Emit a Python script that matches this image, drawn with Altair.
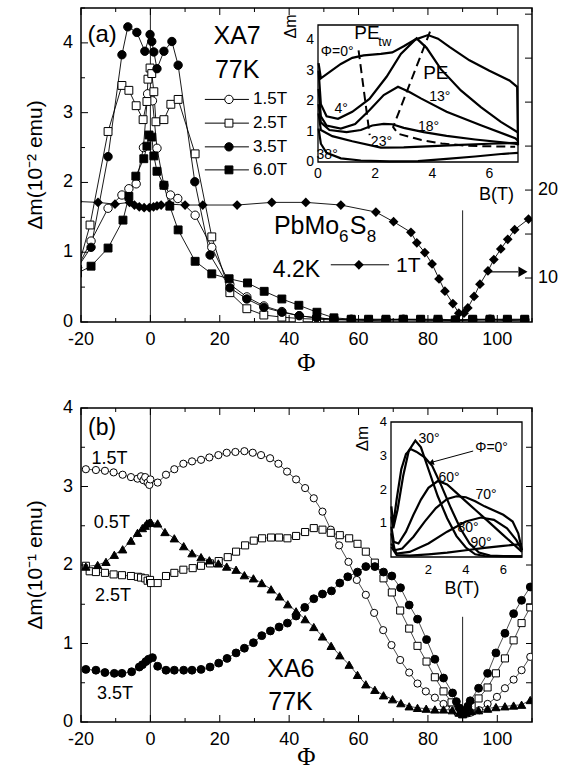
import altair as alt
import pandas as pd

SANS = "Liberation Sans"
SERIF = "Liberation Serif"
W, H = 451, 314

# ================= panel (a): XA7, 77 K =================
A_PHI_15 = [-21, -17.1, -12.2, -8.2, -6.2, -4.1, -2.0, -0.8, 0.6, 1.9, 3.9, 5.8, 7.9, 12.9, 17.7, 22.9, 27.8, 32.7, 37.9, 42.9, 47.9, 52.9, 57.9, 62.9, 67.9, 72.9, 77.9, 82.9, 87.9, 92.9, 97.9, 102.9, 107.9]
A_VAL_15 = [0.78, 1.16, 1.63, 1.82, 1.91, 1.98, 2.5, 3.27, 3.17, 2.49, 1.96, 1.82, 1.77, 1.53, 1.07, 0.54, 0.36, 0.23, 0.15, 0.09, 0.06, 0.04, 0.03, 0.03, 0.03, 0.03, 0.03, 0.03, 0.02, 0.03, 0.03, 0.03, 0.03]

A_PHI_25 = [-21, -17.4, -12.2, -8.2, -6.2, -4.1, -2.1, -1.0, -0.7, -0.1, 0.4, 1.0, 1.6, 3.9, 5.9, 8.0, 12.9, 17.7, 22.9, 27.8, 32.7, 37.9, 42.9, 47.9, 52.9, 57.9, 62.9, 67.9, 72.9, 77.9, 82.9, 87.9, 92.9, 97.9, 102.9, 107.9]
A_VAL_25 = [0.75, 1.39, 2.73, 3.39, 3.32, 3.1, 2.9, 3.16, 3.48, 3.64, 3.56, 3.3, 2.87, 2.9, 3.12, 3.19, 2.41, 1.22, 0.42, 0.19, 0.1, 0.07, 0.05, 0.04, 0.03, 0.03, 0.02, 0.03, 0.03, 0.03, 0.02, 0.02, 0.03, 0.03, 0.02, 0.03]

A_PHI_35 = [-21, -17.1, -12.2, -8.2, -6.5, -3.9, -1.6, -0.1, 0.4, 1.0, 1.9, 3.9, 6.2, 8.0, 12.8, 17.2, 22.9, 27.8, 32.7, 37.9, 42.9, 47.9, 52.9, 57.9, 62.9, 67.9, 72.9, 77.9, 82.9, 87.9, 92.9, 97.9, 102.9, 107.9]
A_VAL_35 = [0.78, 1.07, 2.37, 3.83, 4.23, 4.15, 3.88, 4.12, 4.02, 3.87, 3.63, 3.88, 4.02, 3.68, 2.01, 0.96, 0.49, 0.33, 0.21, 0.14, 0.09, 0.06, 0.04, 0.04, 0.03, 0.03, 0.04, 0.03, 0.03, 0.03, 0.03, 0.04, 0.03, 0.03]

A_PHI_60 = [-21, -17.1, -12.2, -7.9, -6.2, -4.2, -1.9, -1.0, -0.4, 0.4, 1.0, 1.9, 3.9, 5.6, 8.0, 12.9, 17.7, 22.7, 28.0, 32.8, 37.9, 42.8, 48.0, 52.9, 57.9, 62.9, 67.9, 72.9, 77.9, 82.9, 87.9, 92.9, 97.9, 102.9, 107.9]
A_VAL_60 = [0.7, 0.8, 1.06, 1.46, 1.8, 2.09, 2.34, 2.52, 2.68, 2.65, 2.38, 2.16, 1.96, 1.66, 1.32, 0.87, 0.69, 0.62, 0.56, 0.44, 0.33, 0.24, 0.14, 0.06, 0.04, 0.04, 0.04, 0.04, 0.04, 0.04, 0.03, 0.04, 0.04, 0.04, 0.04]

# PbMo6S8, 4.2 K, 1 T  (right axis)
D_PHI = [-21, -15.1, -10.2, -6.0, -4.6, -3.2, -1.8, -0.3, 0.9, 1.9, 3.1, 5.5, 10.0, 15.1, 25.0, 35.0, 44.8, 54.9, 65.0, 70.1, 75.1, 76.8, 79.1, 81.2, 83.2, 84.9, 87.2, 88.9, 90.4, 91.5, 93.3, 95.0, 97.3, 99.0, 101.0, 103.0, 105.0, 109.0]
D_VAL = [18.7, 18.6, 18.4, 18.6, 18.3, 18.1, 18.0, 18.0, 18.1, 18.2, 18.3, 18.4, 18.3, 18.3, 18.3, 18.6, 18.6, 18.3, 17.5, 16.4, 15.2, 14.0, 12.9, 11.6, 9.9, 8.5, 7.1, 6.0, 6.0, 6.6, 7.9, 9.3, 10.8, 12.1, 13.3, 14.4, 15.5, 16.7]

# inset (a): dm vs B(T)
IA_B_0 = [0.02, 0.1, 0.4, 0.8, 1.2, 1.6, 2.2, 2.6, 3.0, 3.4, 3.85, 4.2, 4.6, 5.3, 6.0, 6.7, 6.97, 7.0]
IA_M_0 = [3.25, 2.75, 2.95, 3.22, 3.42, 3.5, 3.55, 3.6, 3.8, 4.02, 4.17, 4.05, 3.78, 3.34, 3.0, 2.68, 2.47, 0.55]
IA_B_4 = [0.02, 0.1, 0.3, 0.7, 1.2, 1.8, 2.4, 2.9, 3.45, 3.8, 4.3, 5.0, 5.7, 6.4, 7.0]
IA_M_4 = [3.0, 1.9, 1.5, 1.42, 1.65, 2.07, 2.8, 3.55, 4.06, 3.75, 3.05, 2.35, 1.8, 1.32, 0.97]
IA_B_13 = [0.02, 0.1, 0.3, 0.8, 1.3, 1.8, 2.3, 2.8, 3.2, 3.6, 4.5, 5.7, 6.9, 7.0]
IA_M_13 = [2.4, 1.5, 1.2, 1.1, 1.25, 1.7, 2.2, 2.47, 2.3, 2.09, 1.65, 1.21, 0.78, 0.7]
IA_B_18 = [0.02, 0.1, 0.4, 1.0, 1.5, 1.9, 2.3, 2.6, 3.0, 3.7, 4.5, 5.5, 6.9, 7.0]
IA_M_18 = [1.9, 1.3, 1.05, 0.98, 1.05, 1.2, 1.25, 1.24, 1.12, 0.98, 0.86, 0.74, 0.6, 0.58]
IA_B_23 = [0.02, 0.1, 0.5, 1.2, 2.2, 3.0, 4.0, 5.0, 6.0, 7.0]
IA_M_23 = [1.6, 1.05, 0.85, 0.68, 0.47, 0.48, 0.52, 0.56, 0.6, 0.63]
IA_B_38 = [0.02, 0.1, 0.3, 0.8, 1.5, 2.5, 3.5, 4.5, 5.5, 6.5, 7.0]
IA_M_38 = [1.1, 0.6, 0.3, 0.12, 0.05, 0.02, 0.03, 0.1, 0.18, 0.27, 0.3]
IA_B_PETW = [1.42, 1.81]
IA_M_PETW = [3.67, 0.88]
IA_B_PE = [3.92, 2.63, 2.8, 3.62, 4.33, 5.27, 6.9]
IA_M_PE = [4.28, 1.15, 0.93, 0.72, 0.61, 0.53, 0.5]

# ================= panel (b): XA6, 77 K =================
B_PHI_15 = [-18.6, -15.7, -13.1, -10.6, -8.0, -5.6, -3.7, -2.7, -2.0, -1.5, -0.8, -0.3, 0.0, 2.1, 4.5, 6.9, 9.5, 12.0, 14.6, 17.0, 19.6, 22.0, 24.5, 27.1, 29.5, 31.9, 34.5, 36.9, 39.4, 42.0, 44.6, 47.1, 49.6, 52.0, 54.4, 57.1, 59.5, 62.1, 64.5, 67.1, 69.5, 72.0, 74.6, 77.0, 79.4, 82.0, 84.5, 87.1, 88.5, 90.0, 91.5, 92.4, 94.8, 97.2, 99.9, 102.2, 104.7, 107.0, 109.5]
B_VAL_15 = [3.22, 3.21, 3.2, 3.18, 3.15, 3.12, 3.10, 3.13, 3.08, 3.12, 3.05, 3.02, 3.09, 3.05, 3.15, 3.22, 3.29, 3.32, 3.34, 3.37, 3.4, 3.43, 3.44, 3.45, 3.43, 3.4, 3.36, 3.29, 3.19, 3.09, 2.98, 2.85, 2.68, 2.45, 2.25, 2.04, 1.81, 1.62, 1.39, 1.17, 0.98, 0.79, 0.63, 0.49, 0.39, 0.31, 0.23, 0.17, 0.12, 0.10, 0.11, 0.12, 0.15, 0.23, 0.32, 0.43, 0.54, 0.66, 0.83]

B_PHI_05 = [-18.6, -15.2, -12.8, -10.4, -8.0, -5.6, -3.7, -2.3, -1.5, -1.0, -0.3, 0.2, 2.1, 4.2, 6.9, 9.6, 12.0, 14.6, 17.0, 19.6, 22.0, 24.7, 27.1, 29.7, 32.1, 34.8, 37.2, 39.6, 42.0, 44.6, 47.1, 49.6, 52.1, 54.6, 57.3, 59.7, 62.1, 64.7, 67.2, 69.8, 72.2, 74.6, 77.0, 79.5, 82.0, 84.5, 87.0, 89.0, 90.0, 91.0, 92.5, 94.6, 97.2, 99.6, 102.2, 104.7, 107.0, 109.5]
B_VAL_05 = [1.98, 2.0, 2.04, 2.13, 2.2, 2.31, 2.41, 2.47, 2.5, 2.53, 2.54, 2.54, 2.53, 2.42, 2.34, 2.24, 2.15, 2.1, 2.06, 2.02, 1.98, 1.94, 1.87, 1.83, 1.77, 1.69, 1.6, 1.5, 1.41, 1.31, 1.21, 1.09, 0.97, 0.85, 0.73, 0.6, 0.48, 0.41, 0.34, 0.29, 0.24, 0.2, 0.18, 0.17, 0.16, 0.16, 0.15, 0.12, 0.10, 0.12, 0.14, 0.15, 0.17, 0.19, 0.2, 0.21, 0.22, 0.28]

B_PHI_25 = [-18.6, -17.5, -15.7, -13.1, -10.6, -8.2, -5.6, -3.6, -2.7, -1.5, -0.8, -0.1, 0.2, 2.1, 4.5, 6.9, 9.5, 12.2, 14.6, 17.2, 19.7, 22.3, 24.7, 27.3, 29.8, 32.2, 34.8, 37.1, 39.5, 42.0, 44.6, 47.1, 49.6, 52.0, 54.6, 57.3, 59.7, 62.1, 64.7, 67.2, 69.6, 72.0, 74.6, 77.0, 79.6, 82.0, 84.5, 86.8, 88.5, 90.0, 91.5, 92.6, 94.6, 97.2, 99.6, 102.2, 104.7, 107.0, 109.5]
B_VAL_25 = [1.99, 1.92, 1.91, 1.9, 1.88, 1.87, 1.86, 1.85, 1.84, 1.83, 1.8, 1.81, 1.77, 1.77, 1.86, 1.9, 1.94, 1.96, 1.99, 2.02, 2.05, 2.1, 2.17, 2.25, 2.31, 2.34, 2.35, 2.35, 2.34, 2.37, 2.42, 2.47, 2.45, 2.41, 2.38, 2.34, 2.27, 2.17, 2.03, 1.83, 1.65, 1.42, 1.19, 0.97, 0.77, 0.57, 0.39, 0.25, 0.15, 0.1, 0.14, 0.2, 0.3, 0.44, 0.62, 0.81, 1.04, 1.26, 1.46]

B_PHI_35 = [-18.6, -15.7, -13.1, -10.4, -8.2, -5.4, -3.2, -2.3, -1.3, -0.5, 0.6, 2.1, 4.5, 6.9, 9.6, 12.0, 14.6, 17.2, 19.7, 22.1, 24.7, 27.1, 29.7, 32.1, 34.6, 37.1, 39.5, 42.0, 44.5, 47.1, 49.6, 52.2, 54.6, 56.9, 59.7, 62.1, 64.7, 67.2, 69.6, 72.1, 74.6, 77.0, 79.6, 82.0, 84.5, 87.1, 88.2, 89.0, 89.6, 90.2, 90.8, 91.5, 92.2, 94.6, 97.2, 99.6, 102.2, 104.7, 107.0, 109.5]
B_VAL_35 = [0.67, 0.66, 0.63, 0.62, 0.62, 0.64, 0.7, 0.73, 0.77, 0.8, 0.82, 0.71, 0.66, 0.66, 0.66, 0.66, 0.67, 0.7, 0.75, 0.81, 0.88, 0.94, 1.01, 1.1, 1.16, 1.21, 1.26, 1.35, 1.46, 1.57, 1.63, 1.67, 1.77, 1.85, 1.91, 1.98, 1.98, 1.91, 1.86, 1.71, 1.49, 1.31, 1.05, 0.8, 0.56, 0.37, 0.26, 0.18, 0.13, 0.12, 0.15, 0.2, 0.27, 0.43, 0.62, 0.88, 1.13, 1.38, 1.55, 1.72]

# inset (b)
IB_B_0 = [0.02, 0.12, 0.3, 0.55, 0.8, 1.05, 1.35, 1.8, 2.2, 2.7, 3.2, 3.7, 4.2, 4.7, 5.3, 6.0, 7.0]
IB_M_0 = [1.5, 0.95, 1.7, 2.6, 3.05, 3.2, 3.12, 2.95, 2.7, 2.1, 1.45, 0.85, 0.4, 0.13, 0.04, 0.03, 0.02]
IB_B_30 = [0.02, 0.12, 0.35, 0.65, 0.95, 1.3, 1.6, 2.0, 2.5, 3.0, 3.5, 4.0, 4.5, 5.0, 6.0, 7.0]
IB_M_30 = [1.2, 0.85, 1.4, 2.4, 3.15, 3.45, 3.25, 2.6, 1.8, 1.15, 0.62, 0.28, 0.08, 0.03, 0.02, 0.02]
IB_B_60 = [0.02, 0.15, 0.4, 0.8, 1.2, 1.6, 2.0, 2.5, 3.0, 3.5, 4.0, 4.5, 5.0, 5.5, 6.0, 6.5, 7.0]
IB_M_60 = [0.9, 0.45, 0.4, 0.75, 1.25, 1.7, 2.05, 2.25, 2.15, 1.9, 1.65, 1.4, 1.15, 0.9, 0.65, 0.4, 0.15]
IB_B_70 = [0.02, 0.2, 0.6, 1.2, 1.8, 2.4, 3.0, 3.5, 4.0, 4.5, 5.0, 5.5, 6.0, 6.5, 6.8, 7.0]
IB_M_70 = [0.7, 0.2, 0.25, 0.6, 1.05, 1.45, 1.72, 1.8, 1.77, 1.65, 1.5, 1.38, 1.25, 1.05, 0.7, 0.2]
IB_B_80 = [0.02, 0.3, 1.0, 2.0, 3.0, 4.0, 4.8, 5.5, 6.2, 6.7, 7.0]
IB_M_80 = [0.4, 0.1, 0.15, 0.4, 0.75, 1.05, 1.17, 1.1, 0.85, 0.5, 0.2]
IB_B_90 = [0.02, 0.3, 1.0, 2.0, 3.0, 4.0, 5.0, 6.0, 7.0]
IB_M_90 = [0.3, 0.06, 0.04, 0.08, 0.13, 0.2, 0.27, 0.33, 0.38]

# tick values and labels
XT_MAJ = [-20, 0, 20, 40, 60, 80, 100]
XT_LAB = ["-20", "0", "20", "40", "60", "80", "100"]
XT_MIN = [-10, 10, 30, 50, 70, 90, 110]
YT_MAJ = [0, 1, 2, 3, 4]
YT_LAB = ["0", "1", "2", "3", "4"]
A_YT_MIN = [0.5, 1.5, 2.5, 3.5, 4.5]
B_YT_MIN = [0.5, 1.5, 2.5, 3.5]
A_RT = [10, 15, 20, 25, 30, 35, 40]
A_RLAB_V = [10, 20]
A_RLAB = ["10", "20"]
B_RT = [0.5, 1, 1.5, 2, 2.5, 3, 3.5]
IA_XT = [0, 2, 4, 6]
IA_XLAB = ["0", "2", "4", "6"]
IA_YT = [0, 1, 2, 3, 4]
IA_YLAB = ["0", "1", "2", "3", "4"]
IB_XT = [2, 4, 6]
IB_XLAB = ["2", "4", "6"]
IB_YT = [1, 2, 3, 4]
IB_YLAB = ["1", "2", "3", "4"]

# ---------------- scales / layout ----------------
xa = alt.Scale(domain=[-20, 110], nice=False, zero=False)
ya = alt.Scale(domain=[0, 4.5], nice=False, zero=False)
yr = alt.Scale(domain=[5, 40.7], nice=False, zero=False)
IA_X = [237, 437]
IA_Y = [154, 17]
xia = alt.Scale(domain=[0, 7], range=IA_X, nice=False, zero=False)
yia = alt.Scale(domain=[0, 4.5], range=IA_Y, nice=False, zero=False)
yb = alt.Scale(domain=[0, 4], nice=False, zero=False)
IB_X = [310, 441]
IB_Y = [149, 14]
xib = alt.Scale(domain=[0, 7], range=IB_X, nice=False, zero=False)
yib = alt.Scale(domain=[0, 4], range=IB_Y, nice=False, zero=False)


def X(f, s):
    return alt.X(f"{f}:Q", scale=s, axis=None)


def Y(f, s):
    return alt.Y(f"{f}:Q", scale=s, axis=None)


def series(phi, val, xs, ys, shape, filled, size, lw):
    d = pd.DataFrame({"phi": phi, "v": val})
    enc = dict(x=X("phi", xs), y=Y("v", ys))
    line = alt.Chart(d).mark_line(color="black", strokeWidth=lw, clip=True).encode(**enc)
    pts = alt.Chart(d).mark_point(shape=shape, size=size, filled=True,
                                  fill="black" if filled else "white", stroke="black",
                                  strokeWidth=1, opacity=1, clip=True).encode(**enc)
    return line, pts


def txt(xv, yv, labels, xs, ys, size, align="center", baseline="middle", font=SANS, angle=None):
    d = pd.DataFrame({"x": xv, "y": yv, "t": labels})
    kw = dict(font=font, fontSize=size, align=align, baseline=baseline, color="black")
    if angle is not None:
        kw["angle"] = angle
    return alt.Chart(d).mark_text(**kw).encode(x=X("x", xs), y=Y("y", ys), text="t:N")


def ylabels(vals, labels, ys, xpix, size, align="right"):
    d = pd.DataFrame({"t": vals, "s": labels})
    return alt.Chart(d).mark_text(font=SANS, fontSize=size, align=align, baseline="middle", color="black").encode(
        y=Y("t", ys), x=alt.value(xpix), text="s:N")


def xlabels(vals, labels, xs, ypix, size):
    d = pd.DataFrame({"t": vals, "s": labels})
    return alt.Chart(d).mark_text(font=SANS, fontSize=size, align="center", baseline="top", color="black").encode(
        x=X("t", xs), y=alt.value(ypix), text="s:N")


def ptext(s, xpix, ypix, size, font=SANS, angle=None):
    d = pd.DataFrame({"s": [s]})
    kw = dict(font=font, fontSize=size, align="center", baseline="middle", color="black")
    if angle is not None:
        kw["angle"] = angle
    return alt.Chart(d).mark_text(**kw).encode(x=alt.value(xpix), y=alt.value(ypix), text="s:N")


def hticks(vals, xs, length, top=False):
    d = pd.DataFrame({"t": vals})
    y, y2 = (alt.value(0), alt.value(length)) if top else (alt.value(H), alt.value(H - length))
    return alt.Chart(d).mark_rule(color="black", strokeWidth=1).encode(x=X("t", xs), y=y, y2=y2)


def vticks(vals, ys, length, right=False):
    d = pd.DataFrame({"t": vals})
    x, x2 = (alt.value(W), alt.value(W - length)) if right else (alt.value(0), alt.value(length))
    return alt.Chart(d).mark_rule(color="black", strokeWidth=1).encode(y=Y("t", ys), x=x, x2=x2)


def curves(named):
    rows = []
    for name, bs, ms in named:
        for i, (b, m) in enumerate(zip(bs, ms)):
            rows.append({"c": name, "i": i, "b": b, "m": m})
    return pd.DataFrame(rows)


def vlines(vphi, vtop, ys):
    d = pd.DataFrame({"phi": vphi, "v": [0] * len(vphi), "v2": vtop})
    return alt.Chart(d).mark_rule(color="#222", strokeWidth=1).encode(x=X("phi", xa), y=Y("v", ys), y2="v2:Q")


def frame_axes(ys, ymin_ticks, ytitle, title_y):
    return [
        hticks(XT_MAJ, xa, 7), hticks(XT_MIN, xa, 4), hticks(XT_MAJ, xa, 7, top=True), hticks(XT_MIN, xa, 4, top=True),
        vticks(YT_MAJ, ys, 7), vticks(ymin_ticks, ys, 4),
        xlabels(XT_MAJ, XT_LAB, xa, H + 9, 18),
        ylabels(YT_MAJ, YT_LAB, ys, -8, 18),
        ptext("Φ", W / 2, title_y, 25, font=SERIF),
        ptext(ytitle, -45, H / 2, 21, angle=270),
    ]


# ================= build panel (a) =================
A_SER = [
    (A_PHI_15, A_VAL_15, "circle", False, 70, "1.5T"),
    (A_PHI_25, A_VAL_25, "square", False, 62, "2.5T"),
    (A_PHI_35, A_VAL_35, "circle", True, 70, "3.5T"),
    (A_PHI_60, A_VAL_60, "square", True, 62, "6.0T"),
]
LEG_A_V = [3.19, 2.85, 2.51, 2.18]

a_lines, a_pts, a_leg = [], [], []
for (p, v, shp, fil, sz, lab), lv in zip(A_SER, LEG_A_V):
    l, pt = series(p, v, xa, ya, shp, fil, sz, 0.9)
    a_lines.append(l)
    a_pts.append(pt)
    ld = pd.DataFrame({"x1": [15.7], "x2": [28.4], "xm": [22.65], "v": [lv], "t": [lab], "xt": [29.6]})
    a_leg.append(alt.Chart(ld).mark_rule(color="black", strokeWidth=1).encode(
        x=X("x1", xa), x2="x2:Q", y=Y("v", ya)))
    a_leg.append(alt.Chart(ld).mark_point(shape=shp, size=sz, filled=True, fill="black" if fil else "white",
                                          stroke="black", strokeWidth=1, opacity=1).encode(
        x=X("xm", xa), y=Y("v", ya)))
    a_leg.append(alt.Chart(ld).mark_text(font=SANS, fontSize=17, align="left", baseline="middle").encode(
        x=X("xt", xa), y=Y("v", ya), text="t:N"))

pb_leg = pd.DataFrame({"x1": [52.0], "x2": [68.8], "xm": [60.1], "v": [0.82]})
a_pb = [
    txt([35.6], [1.26], ["PbMo"], xa, ya, 25, align="left", baseline="alphabetic"),
    txt([54.4], [1.15], ["6"], xa, ya, 17, align="left", baseline="alphabetic"),
    txt([57.5], [1.26], ["S"], xa, ya, 25, align="left", baseline="alphabetic"),
    txt([62.4], [1.15], ["8"], xa, ya, 17, align="left", baseline="alphabetic"),
    txt([35.3], [0.745], ["4.2K"], xa, ya, 23, align="left"),
    txt([70.8], [0.80], ["1T"], xa, ya, 21, align="left"),
    alt.Chart(pb_leg).mark_rule(color="black", strokeWidth=1).encode(x=X("x1", xa), x2="x2:Q", y=Y("v", ya)),
    alt.Chart(pb_leg).mark_point(shape="diamond", size=95, filled=True, color="black", opacity=1).encode(
        x=X("xm", xa), y=Y("v", ya)),
]

main_a = alt.layer(
    vlines([0, 90], [4.5, 1.6], ya),
    *a_lines, *a_pts,
    *frame_axes(ya, A_YT_MIN, "Δm(10⁻² emu)", H + 41),
    txt([-13.9], [4.11], ["(a)"], xa, ya, 24),
    txt([25.0, 25.0], [4.1, 3.61], ["XA7", "77K"], xa, ya, 25),
    *a_leg, *a_pb,
)

dd = pd.DataFrame({"phi": D_PHI, "r": D_VAL})
arrow_a = pd.DataFrame({"x1": [97.3], "x2": [106.0], "xh": [107.4], "r": [10.7]})
diam_a = alt.layer(
    alt.Chart(dd).mark_line(color="black", strokeWidth=0.9, clip=True).encode(x=X("phi", xa), y=Y("r", yr)),
    alt.Chart(dd).mark_point(shape="diamond", size=95, filled=True, color="black", opacity=1, clip=True).encode(
        x=X("phi", xa), y=Y("r", yr)),
    vticks(A_RT, yr, 7, right=True),
    ylabels(A_RLAB_V, A_RLAB, yr, W + 6, 18, align="left"),
    alt.Chart(arrow_a).mark_rule(color="black", strokeWidth=1.2).encode(x=X("x1", xa), x2="x2:Q", y=Y("r", yr)),
    alt.Chart(arrow_a).mark_point(shape="triangle-right", size=110, filled=True, color="black", opacity=1).encode(
        x=X("xh", xa), y=Y("r", yr)),
)

frame_a = pd.DataFrame({"b0": [0], "b1": [7], "m0": [0], "m1": [4.5]})
ca = curves([("0", IA_B_0, IA_M_0), ("4", IA_B_4, IA_M_4), ("13", IA_B_13, IA_M_13),
             ("18", IA_B_18, IA_M_18), ("23", IA_B_23, IA_M_23), ("38", IA_B_38, IA_M_38)])
cda = curves([("tw", IA_B_PETW, IA_M_PETW), ("pe", IA_B_PE, IA_M_PE)])
inset_a = alt.layer(
    alt.Chart(frame_a).mark_rect(fill="white", stroke="black", strokeWidth=1.3).encode(
        x=X("b0", xia), x2="b1:Q", y=Y("m0", yia), y2="m1:Q"),
    xlabels(IA_XT, IA_XLAB, xia, IA_Y[0] + 5, 14),
    ylabels(IA_YT, IA_YLAB, yia, IA_X[0] - 4, 14),
    alt.Chart(ca).mark_line(color="black", strokeWidth=2.2).encode(
        x=X("b", xia), y=Y("m", yia), detail="c:N", order="i:Q"),
    alt.Chart(cda).mark_line(color="black", strokeWidth=2.0, strokeDash=[9, 5]).encode(
        x=X("b", xia), y=Y("m", yia), detail="c:N", order="i:Q"),
    txt([0.1], [3.62], ["Φ=0°"], xia, yia, 14, align="left"),
    txt([1.27, 3.68], [4.23, 2.91], ["PE", "PE"], xia, yia, 19, align="left"),
    txt([2.11], [3.95], ["tw"], xia, yia, 13, align="left"),
    txt([0.81, 4.26, 3.87, 2.22, 0.32], [1.74, 2.14, 1.15, 0.66, 0.23], ["4°", "13°", "18°", "23°", "38°"],
        xia, yia, 14),
    txt([-0.93], [4.45], ["Δm"], xia, yia, 16, angle=270),
    txt([6.25], [-1.07], ["B(T)"], xia, yia, 18),
)

top = alt.layer(main_a, diam_a, inset_a).resolve_scale(x="independent", y="independent").properties(
    width=W, height=H)

# ================= build panel (b) =================
B_SER = [
    (B_PHI_15, B_VAL_15, "circle", False, 52),
    (B_PHI_25, B_VAL_25, "square", False, 50),
    (B_PHI_05, B_VAL_05, "triangle-up", True, 70),
    (B_PHI_35, B_VAL_35, "circle", True, 62),
]
b_lines, b_pts = [], []
for p, v, shp, fil, sz in B_SER:
    l, pt = series(p, v, xa, yb, shp, fil, sz, 0.7)
    b_lines.append(l)
    b_pts.append(pt)

main_b = alt.layer(
    vlines([0, 90], [4, 1.34], yb),
    *b_lines, *b_pts,
    *frame_axes(yb, B_YT_MIN, "Δm(10⁻¹ emu)", H + 35),
    vticks(B_RT, yb, 6, right=True),
    txt([-13.9], [3.75], ["(b)"], xa, yb, 23),
    txt([-11.8, -11.1, -10.8, -10.2], [3.35, 2.54, 1.6, 0.36], ["1.5T", "0.5T", "2.5T", "3.5T"], xa, yb, 18),
    txt([40.5, 40.4], [0.675, 0.255], ["XA6", "77K"], xa, yb, 25),
)

frame_b = pd.DataFrame({"b0": [0], "b1": [7], "m0": [0], "m1": [4]})
cb = curves([("0", IB_B_0, IB_M_0), ("30", IB_B_30, IB_M_30), ("60", IB_B_60, IB_M_60),
             ("70", IB_B_70, IB_M_70), ("80", IB_B_80, IB_M_80), ("90", IB_B_90, IB_M_90)])
arrow_b = pd.DataFrame({"b1": [4.39], "m1": [3.14], "b2": [2.2], "m2": [2.81], "bh": [2.14], "mh": [2.79]})
inset_b = alt.layer(
    alt.Chart(frame_b).mark_rect(fill="white", stroke="black", strokeWidth=1.3).encode(
        x=X("b0", xib), x2="b1:Q", y=Y("m0", yib), y2="m1:Q"),
    xlabels(IB_XT, IB_XLAB, xib, IB_Y[0] + 7, 13),
    ylabels(IB_YT, IB_YLAB, yib, IB_X[0] - 4, 13),
    alt.Chart(cb).mark_line(color="black", strokeWidth=2.2).encode(
        x=X("b", xib), y=Y("m", yib), detail="c:N", order="i:Q"),
    alt.Chart(arrow_b).mark_rule(color="black", strokeWidth=1).encode(
        x=X("b1", xib), x2="b2:Q", y=Y("m1", yib), y2="m2:Q"),
    alt.Chart(arrow_b).mark_point(shape="triangle-left", size=40, angle=344, filled=True, color="black",
                                  opacity=1).encode(x=X("bh", xib), y=Y("mh", yib)),
    txt([2.03, 3.1, 5.08, 4.12, 4.81], [3.5, 2.34, 1.84, 0.86, 0.41], ["30°", "60°", "70°", "80°", "90°"],
        xib, yib, 14),
    txt([4.5], [3.23], ["Φ=0°"], xib, yib, 14, align="left"),
    txt([-1.52], [3.51], ["Δm"], xib, yib, 17, angle=270),
    txt([3.8], [-0.95], ["B(T)"], xib, yib, 18),
)

bottom = alt.layer(main_b, inset_b).resolve_scale(x="independent", y="independent").properties(
    width=W, height=H)

chart = alt.vconcat(top, bottom, spacing=21).properties(
    padding={"left": 24, "top": 6, "right": 4, "bottom": 2}, background="white"
).configure_view(stroke="black", strokeWidth=1.5)

chart.save("out.html", embed_options={"renderer": "svg", "actions": False})
